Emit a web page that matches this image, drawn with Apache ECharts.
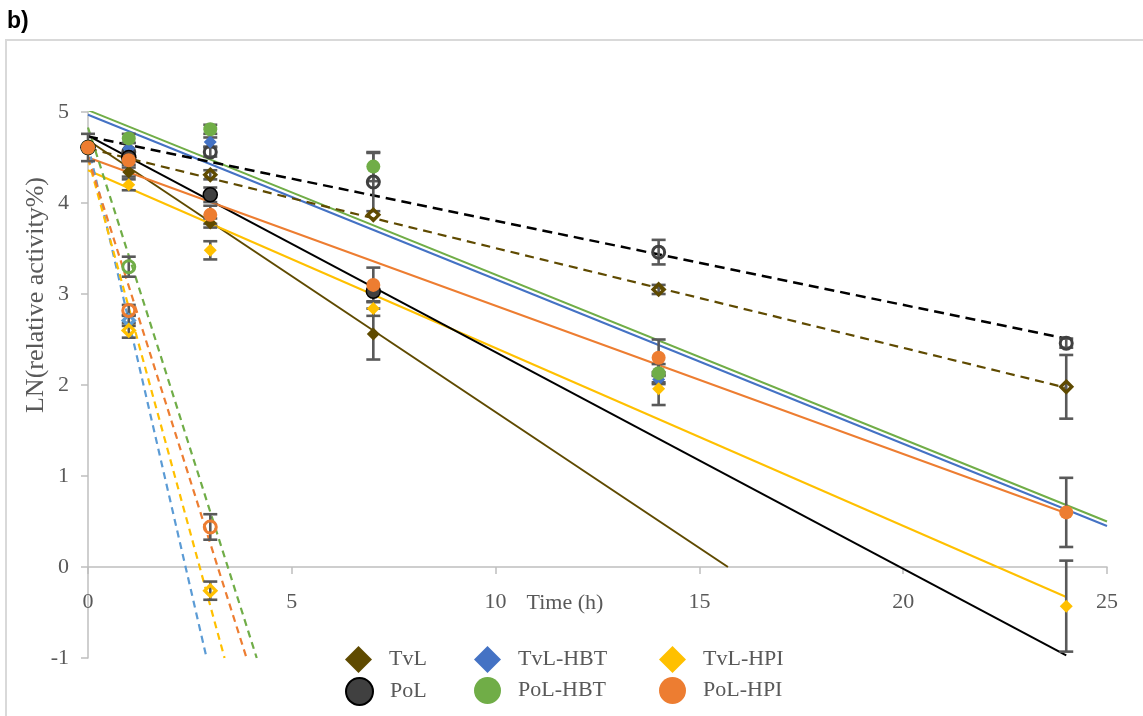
<!DOCTYPE html>
<html><head><meta charset="utf-8">
<script src="https://cdn.jsdelivr.net/npm/echarts@6/dist/echarts.min.js"></script>
<style>html,body{margin:0;padding:0;background:#fff}#c{width:1143px;height:716px}</style>
</head><body><div id="c"></div>
<script>
// ---------- data ----------
const times = [0, 1, 3, 7, 14, 24];

// filled markers (solid trend lines)
const tvl       = [4.61, 4.34, 3.78, 2.56, null, null];
const tvlErr    = [0, 0.05, 0.05, 0.28, 0, 0];
const tvlHbt    = [4.61, 4.60, 4.67, null, 2.06, null];
const tvlHbtErr = [0, 0, 0.05, 0, 0.05, 0];
const tvlHpi    = [4.61, 4.20, 3.48, 2.84, 1.96, -0.43];
const tvlHpiErr = [0, 0.06, 0.10, 0.08, 0.18, 0.50];
const pol       = [4.61, 4.50, 4.09, 3.03, null, null];
const polErr    = [0, 0, 0.08, 0, 0, 0];
const polHbt    = [4.61, 4.71, 4.81, 4.40, 2.13, null];
const polHbtErr = [0, 0.05, 0.05, 0.16, 0.10, 0];
const polHpi    = [4.61, 4.47, 3.87, 3.10, 2.30, 0.60];
const polHpiErr = [0.15, 0.05, 0.10, 0.19, 0.20, 0.38];

// hollow markers (dashed trend lines)
const tvlB       = [4.61, 4.50, 4.31, 3.87, 3.05, 1.98];
const tvlBErr    = [0, 0, 0.05, 0, 0.05, 0.35];
const tvlHbtB    = [4.61, 2.71, null, null, null, null];
const tvlHbtBErr = [0, 0.06, 0, 0, 0, 0];
const tvlHpiB    = [null, 2.60, -0.26, null, null, null];
const tvlHpiBErr = [0, 0.08, 0.10, 0, 0, 0];
const polB       = [null, 4.56, 4.56, 4.23, 3.46, 2.46];
const polBErr    = [0, 0.10, 0.05, 0.32, 0.135, 0.05];
const polHbtB    = [null, 3.30, null, null, null, null];
const polHbtBErr = [0, 0.11, 0, 0, 0, 0];
const polHpiB    = [null, 2.82, 0.44, null, null, null];
const polHpiBErr = [0, 0.06, 0.14, 0, 0, 0];

// trend lines (endpoints in data units)
const tvlTrend     = [[0, 4.69], [15.7, 0]];
const tvlHbtTrend  = [[0, 4.97], [25, 0.45]];
const tvlHpiTrend  = [[0, 4.36], [24, -0.33]];
const polTrend     = [[0, 4.74], [24, -0.97]];
const polHbtTrend  = [[0, 5.02], [25, 0.50]];
const polHpiTrend  = [[0, 4.50], [24, 0.59]];
const tvlTrendB    = [[0, 4.60], [24, 1.97]];
const tvlHbtTrendB = [[0, 4.64], [2.91, -1]];
const tvlHpiTrendB = [[0, 4.49], [3.35, -1]];
const polTrendB    = [[0, 4.73], [24, 2.51]];
const polHbtTrendB = [[0, 4.83], [4.14, -1]];
const polHpiTrendB = [[0, 4.50], [3.89, -1]];

const legendNames = ['TvL', 'TvL-HBT', 'TvL-HPI', 'PoL', 'PoL-HBT', 'PoL-HPI'];
const xTitle = 'Time (h)';
const yTitle = 'LN(relative activity%)';
const panelLabel = 'b)';

// ---------- build ----------
const OLIVE = '#5f4a00', BLUE = '#4472c4', LBLUE = '#5b9bd5', YEL = '#ffc000',
      GREEN = '#70ad47', ORANGE = '#ed7d31', DGRAY = '#404040';
const serif = 'Liberation Serif';
const Y_MIN = -1, Y_MAX = 5;
const GRID_TOP = 112, GRID_BOTTOM = 58, H = 716;

function pts(vals) {
  const out = [];
  times.forEach((t, i) => { if (vals[i] !== null) out.push([t, vals[i]]); });
  return out;
}
function errPts(vals, errs) {
  const out = [];
  times.forEach((t, i) => { if (vals[i] !== null && errs[i] > 0) out.push([t, vals[i], errs[i]]); });
  return out;
}

const filled = [
  {name: 'TvL', v: tvl, e: tvlErr, sym: 'diamond', c: OLIVE, border: OLIVE, trend: tvlTrend, lc: OLIVE},
  {name: 'TvL-HBT', v: tvlHbt, e: tvlHbtErr, sym: 'diamond', c: BLUE, border: BLUE, trend: tvlHbtTrend, lc: BLUE},
  {name: 'TvL-HPI', v: tvlHpi, e: tvlHpiErr, sym: 'diamond', c: YEL, border: YEL, trend: tvlHpiTrend, lc: YEL},
  {name: 'PoL', v: pol, e: polErr, sym: 'circle', c: DGRAY, border: '#000', trend: polTrend, lc: '#000'},
  {name: 'PoL-HBT', v: polHbt, e: polHbtErr, sym: 'circle', c: GREEN, border: GREEN, trend: polHbtTrend, lc: GREEN},
  {name: 'PoL-HPI', v: polHpi, e: polHpiErr, sym: 'circle', c: ORANGE, border: ORANGE, trend: polHpiTrend, lc: ORANGE}
];
const hollow = [
  {name: 'TvL b', v: tvlB, e: tvlBErr, sym: 'diamond', c: OLIVE, trend: tvlTrendB, dash: [9, 6], w: 2.2},
  {name: 'TvL-HBT b', v: tvlHbtB, e: tvlHbtBErr, sym: 'diamond', c: LBLUE, trend: tvlHbtTrendB, dash: [7, 5], w: 2.2},
  {name: 'TvL-HPI b', v: tvlHpiB, e: tvlHpiBErr, sym: 'diamond', c: YEL, trend: tvlHpiTrendB, dash: [7, 5], w: 2.2},
  {name: 'PoL b', v: polB, e: polBErr, sym: 'circle', c: DGRAY, trend: polTrendB, dash: [10, 6], w: 2.5, lc: '#000'},
  {name: 'PoL-HBT b', v: polHbtB, e: polHbtBErr, sym: 'circle', c: GREEN, trend: polHbtTrendB, dash: [7, 5], w: 2.2},
  {name: 'PoL-HPI b', v: polHpiB, e: polHpiBErr, sym: 'circle', c: ORANGE, trend: polHpiTrendB, dash: [7, 5], w: 2.2}
];

const series = [];
filled.forEach(s => series.push({
  type: 'line', name: s.name + ' trend', data: s.trend, showSymbol: false, symbol: 'none',
  lineStyle: {color: s.lc, width: 2}, z: 2, silent: true, animation: false
}));
hollow.forEach(s => series.push({
  type: 'line', name: s.name + ' trend', data: s.trend, showSymbol: false, symbol: 'none',
  lineStyle: {color: s.lc || s.c, width: s.w, type: s.dash}, z: 2, silent: true, animation: false
}));
const errData = [];
filled.concat(hollow).forEach(s => errPts(s.v, s.e).forEach(p => errData.push(p)));
series.push({
  type: 'custom', name: 'err', data: errData, z: 3, silent: true, animation: false,
  encode: {x: 0, y: 1},
  renderItem: (params, api) => {
    const x = api.value(0), y = api.value(1), e = api.value(2);
    const a = api.coord([x, y + e]), b = api.coord([x, y - e]);
    const w = 7, st = {stroke: '#595959', lineWidth: 2.6};
    return {type: 'group', children: [
      {type: 'line', shape: {x1: a[0], y1: a[1], x2: b[0], y2: b[1]}, style: st},
      {type: 'line', shape: {x1: a[0] - w, y1: a[1], x2: a[0] + w, y2: a[1]}, style: st},
      {type: 'line', shape: {x1: b[0] - w, y1: b[1], x2: b[0] + w, y2: b[1]}, style: st}
    ]};
  }
});
hollow.forEach(s => series.push({
  type: 'scatter', name: s.name, data: pts(s.v), symbol: s.sym,
  symbolSize: s.sym === 'circle' ? 12 : 11, z: 4, animation: false,
  itemStyle: {color: 'rgba(255,255,255,0)', borderColor: s.c, borderWidth: s.sym === 'circle' ? 3 : 3.4, opacity: 1}
}));
filled.forEach(s => series.push({
  type: 'scatter', name: s.name, data: pts(s.v), symbol: s.sym,
  symbolSize: s.sym === 'circle' ? 14 : 13, z: 5, animation: false,
  itemStyle: {color: s.c, borderColor: s.border, borderWidth: s.name === 'PoL' ? 1.5 : 0, opacity: 1}
}));

const legPos = [[345, 646], [474, 646], [659, 646], [345, 677], [474, 677], [659, 677]];
const legends = legendNames.map((n, i) => ({
  data: [n], left: legPos[i][0], top: legPos[i][1], itemWidth: 27, itemHeight: 27,
  selectedMode: false, padding: 0,
  textStyle: {fontFamily: serif, fontSize: 22, color: '#595959', padding: [0, 0, 0, 12]}
}));

// move x axis to cross at y = 0
const plotH = H - GRID_TOP - GRID_BOTTOM;
const xOffset = -plotH * (0 - Y_MIN) / (Y_MAX - Y_MIN);

const axisLbl = {fontFamily: serif, fontSize: 22, color: '#595959'};
const option = {
  backgroundColor: '#fff',
  animation: false,
  grid: {left: 88, right: 36, top: GRID_TOP, bottom: GRID_BOTTOM, containLabel: false},
  xAxis: {
    type: 'value', min: 0, max: 25, interval: 5, offset: xOffset,
    axisLine: {onZero: false, lineStyle: {color: '#bfbfbf', width: 1.5}},
    axisTick: {show: true, length: 7, lineStyle: {color: '#bfbfbf', width: 1.5}},
    axisLabel: Object.assign({margin: 24}, axisLbl),
    splitLine: {show: false}
  },
  yAxis: {
    type: 'value', min: Y_MIN, max: Y_MAX, interval: 1,
    axisLine: {show: true, onZero: false, lineStyle: {color: '#bfbfbf', width: 1.5}},
    axisTick: {show: true, length: 7, lineStyle: {color: '#bfbfbf', width: 1.5}},
    axisLabel: Object.assign({margin: 19}, axisLbl),
    splitLine: {show: false}
  },
  legend: legends,
  graphic: [
    {type: 'rect', shape: {x: 6, y: 40, width: 1300, height: 900}, style: {fill: 'none', stroke: '#d9d9d9', lineWidth: 2}, silent: true, z: -10},
    {type: 'text', left: 7, top: 10, style: {text: panelLabel, font: 'bold 23px "Liberation Sans"', fill: '#000'}},
    {type: 'text', x: 36, y: 295, rotation: Math.PI / 2,
      style: {text: yTitle, font: '26px "Liberation Serif"', fill: '#595959', align: 'center', verticalAlign: 'middle'}},
    {type: 'text', x: 565, y: 603,
      style: {text: xTitle, font: '22px "Liberation Serif"', fill: '#595959', align: 'center', verticalAlign: 'middle'}}
  ],
  series: series
};
const chart = echarts.init(document.getElementById('c'), null, {renderer: 'canvas'});
chart.setOption(option);
</script>
</body></html>
